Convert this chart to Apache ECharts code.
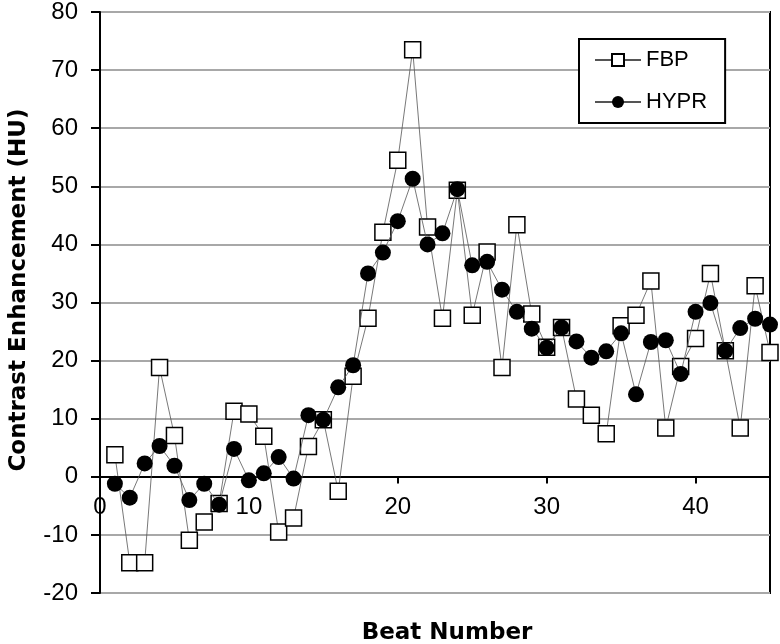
<!DOCTYPE html>
<html>
<head>
<meta charset="utf-8">
<script src="https://cdn.jsdelivr.net/npm/echarts@6/dist/echarts.min.js"></script>
<style>html,body{margin:0;padding:0;background:#fff}#c{width:780px;height:644px}</style>
</head>
<body>
<div id="c"></div>
<script>
const beats = [1,2,3,4,5,6,7,8,9,10,11,12,13,14,15,16,17,18,19,20,21,22,23,24,25,26,27,28,29,30,31,32,33,34,35,36,37,38,39,40,41,42,43,44,45];
const fbp = [3.8,-14.8,-14.8,18.8,7.1,-10.9,-7.8,-4.6,11.3,10.8,7.0,-9.5,-7.1,5.2,9.8,-2.5,17.3,27.3,42.1,54.5,73.5,43.0,27.3,49.3,27.8,38.7,18.8,43.4,28.0,22.3,25.7,13.4,10.6,7.4,26.0,27.8,33.7,8.4,19.0,23.8,35.0,21.7,8.4,32.9,21.4];
const hypr = [-1.2,-3.6,2.3,5.3,1.9,-4.0,-1.2,-4.8,4.8,-0.6,0.6,3.4,-0.3,10.6,9.8,15.4,19.2,35.0,38.6,44.0,51.3,40.0,41.9,49.5,36.4,37.0,32.2,28.4,25.5,22.2,25.7,23.3,20.5,21.6,24.7,14.2,23.2,23.5,17.7,28.4,29.9,21.7,25.6,27.2,26.2];
const xTicks = [0,10,20,30,40];
const yName = 'Contrast Enhancement (HU)';
const xName = 'Beat Number';

const font = '"Liberation Sans", Arial, sans-serif';
const boldFont = '"DejaVu Sans", "Liberation Sans", sans-serif';
const gridTop = 10, gridBottom = 51, H = 644;
const plotH = H - gridTop - gridBottom;
const yMin = -20, yMax = 80;
const zeroOffset = -plotH * (0 - yMin) / (yMax - yMin);

const chart = echarts.init(document.getElementById('c'), null, {renderer: 'canvas'});
chart.setOption({
  animation: false,
  backgroundColor: '#fff',
  grid: {left: 100, right: 10, top: gridTop, bottom: gridBottom, show: true, borderColor: '#000', borderWidth: 2, backgroundColor: 'transparent'},
  legend: {
    orient: 'vertical', left: 579, top: 39,
    backgroundColor: '#fff', borderColor: '#000', borderWidth: 2,
    padding: [10, 18, 10, 15], itemGap: 20, itemWidth: 46, itemHeight: 15,
    textStyle: {fontFamily: font, fontSize: 22, color: '#000'},
    data: ['FBP', 'HYPR']
  },
  xAxis: {
    type: 'value', min: 0, max: 45, interval: 10,
    offset: zeroOffset,
    axisLine: {show: true, onZero: false, lineStyle: {color: '#000', width: 2}},
    axisTick: {show: true, inside: false, length: 7, lineStyle: {color: '#000', width: 2}, customValues: xTicks},
    axisLabel: {fontFamily: font, fontSize: 24, color: '#000', margin: 19, customValues: xTicks},
    splitLine: {show: false}
  },
  yAxis: {
    type: 'value', min: yMin, max: yMax, interval: 10,
    axisLine: {show: true, lineStyle: {color: '#000', width: 2}},
    axisTick: {show: true, inside: false, length: 9, lineStyle: {color: '#000', width: 2}},
    axisLabel: {fontFamily: font, fontSize: 24, color: '#000', margin: 22},
    splitLine: {show: true, lineStyle: {color: '#a8a8a8', width: 2}}
  },
  graphic: [
    {
      type: 'text', x: 447, y: 633,
      style: {text: xName, fontFamily: boldFont, fontSize: 23, fontWeight: 'bold', fill: '#000', align: 'center', verticalAlign: 'middle'}
    },
    {
      type: 'text', x: 19, y: 290, rotation: Math.PI / 2,
      style: {text: yName, fontFamily: boldFont, fontSize: 23, fontWeight: 'bold', fill: '#000', align: 'center', verticalAlign: 'middle'}
    }
  ],
  series: [
    {
      name: 'FBP', type: 'line',
      data: beats.map((b, i) => [b, fbp[i]]),
      symbol: 'rect', symbolSize: 16,
      itemStyle: {color: '#fff', borderColor: '#000', borderWidth: 1.5},
      lineStyle: {color: '#555', width: 0.8},
      z: 2
    },
    {
      name: 'HYPR', type: 'line',
      data: beats.map((b, i) => [b, hypr[i]]),
      symbol: 'circle', symbolSize: 16,
      itemStyle: {color: '#000', borderColor: '#000', borderWidth: 0},
      lineStyle: {color: '#555', width: 0.8},
      z: 3
    }
  ]
});
</script>
</body>
</html>
